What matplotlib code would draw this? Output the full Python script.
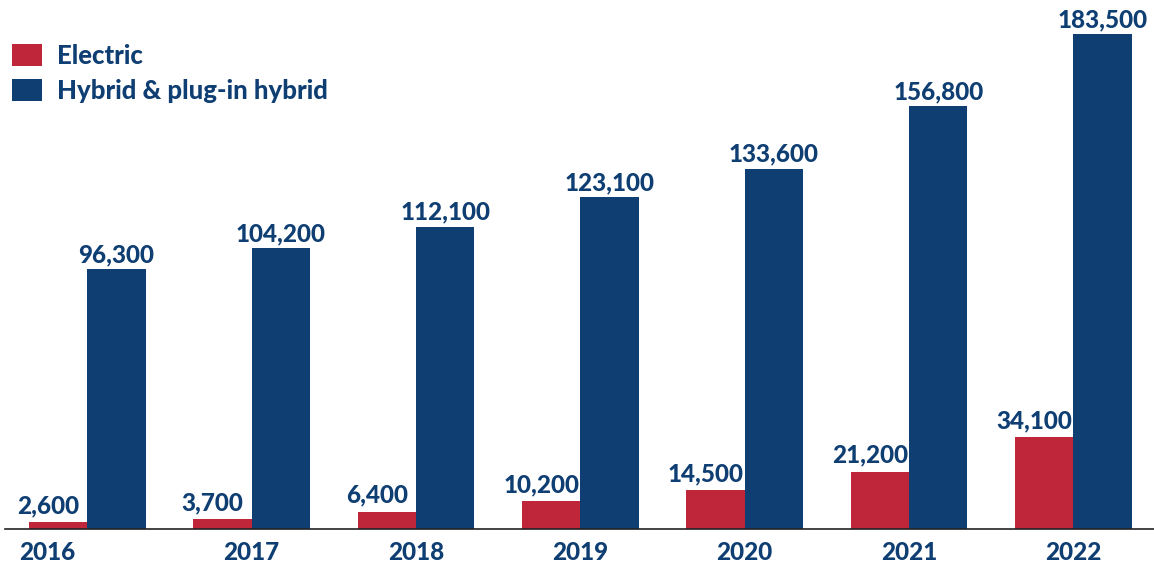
#!/usr/bin/env python3

# Grouped bars: electric vs hybrid vehicle registrations per year

import matplotlib.pyplot as plt
from matplotlib.patches import Patch
import numpy as np

plt.rcParams["font.family"] = ["Lato", "DejaVu Sans"]

years = ["2016", "2017", "2018", "2019", "2020", "2021", "2022"]
electric = [2600, 3700, 6400, 10200, 14500, 21200, 34100]
hybrid = [96300, 104200, 112100, 123100, 133600, 156800, 183500]

red = "#c0263a"
navy = "#0f3e73"
width = 0.355
fs = 17.5
weight = "black"

fig = plt.figure(figsize=(11.54, 5.71), dpi=100)
ax = fig.add_axes([5 / 1154, 42 / 571, 1 - 5 / 1154, 1 - 42 / 571])

x = np.arange(len(years))
b1 = ax.bar(x - width / 2, electric, width, color=red, linewidth=0)
b2 = ax.bar(x + width / 2, hybrid, width, color=navy, linewidth=0)

# value labels above each bar; electric ones nudged left off the tall bar
for rect, v in zip(b1, electric):
    ax.annotate(f"{v:,}", (rect.get_x() + rect.get_width() / 2, v),
                xytext=(-10, 9), textcoords="offset pixels",
                ha="center", va="baseline", fontsize=fs,
                fontweight=weight, color=navy)
for rect, v in zip(b2, hybrid):
    ax.annotate(f"{v:,}", (rect.get_x() + rect.get_width() / 2, v),
                xytext=(0, 7), textcoords="offset pixels",
                ha="center", va="baseline", fontsize=fs,
                fontweight=weight, color=navy)

# year labels under each group (first one shifted to stay inside)
for i, yr in enumerate(years):
    xi = i - 0.243 if i == 0 else i
    ax.annotate(yr, (xi, 0), xytext=(0, -24), textcoords="offset pixels",
                ha="center", va="center", fontsize=fs,
                fontweight=weight, color=navy, annotation_clip=False)

ax.set_xlim(-0.5, 6.49)
ax.set_ylim(0, 196100)
ax.set_xticks([])
ax.set_yticks([])
for side in ["top", "right", "left"]:
    ax.spines[side].set_visible(False)
ax.spines["bottom"].set_linewidth(1.2)
ax.spines["bottom"].set_color("#222222")

handles = [Patch(facecolor=red, edgecolor="none"),
           Patch(facecolor=navy, edgecolor="none")]
leg = ax.legend(handles, ["Electric", "Hybrid & plug-in hybrid"],
                loc="upper left", bbox_to_anchor=(12 / 1154, 1 - 44 / 571),
                bbox_transform=fig.transFigure, frameon=False,
                fontsize=18.5, handlelength=1.15, handleheight=0.92,
                handletextpad=0.62, labelspacing=0.42, borderpad=0,
                borderaxespad=0)
for t in leg.get_texts():
    t.set_color(navy)
    t.set_fontweight(weight)

fig.savefig("out.png", dpi=100)
